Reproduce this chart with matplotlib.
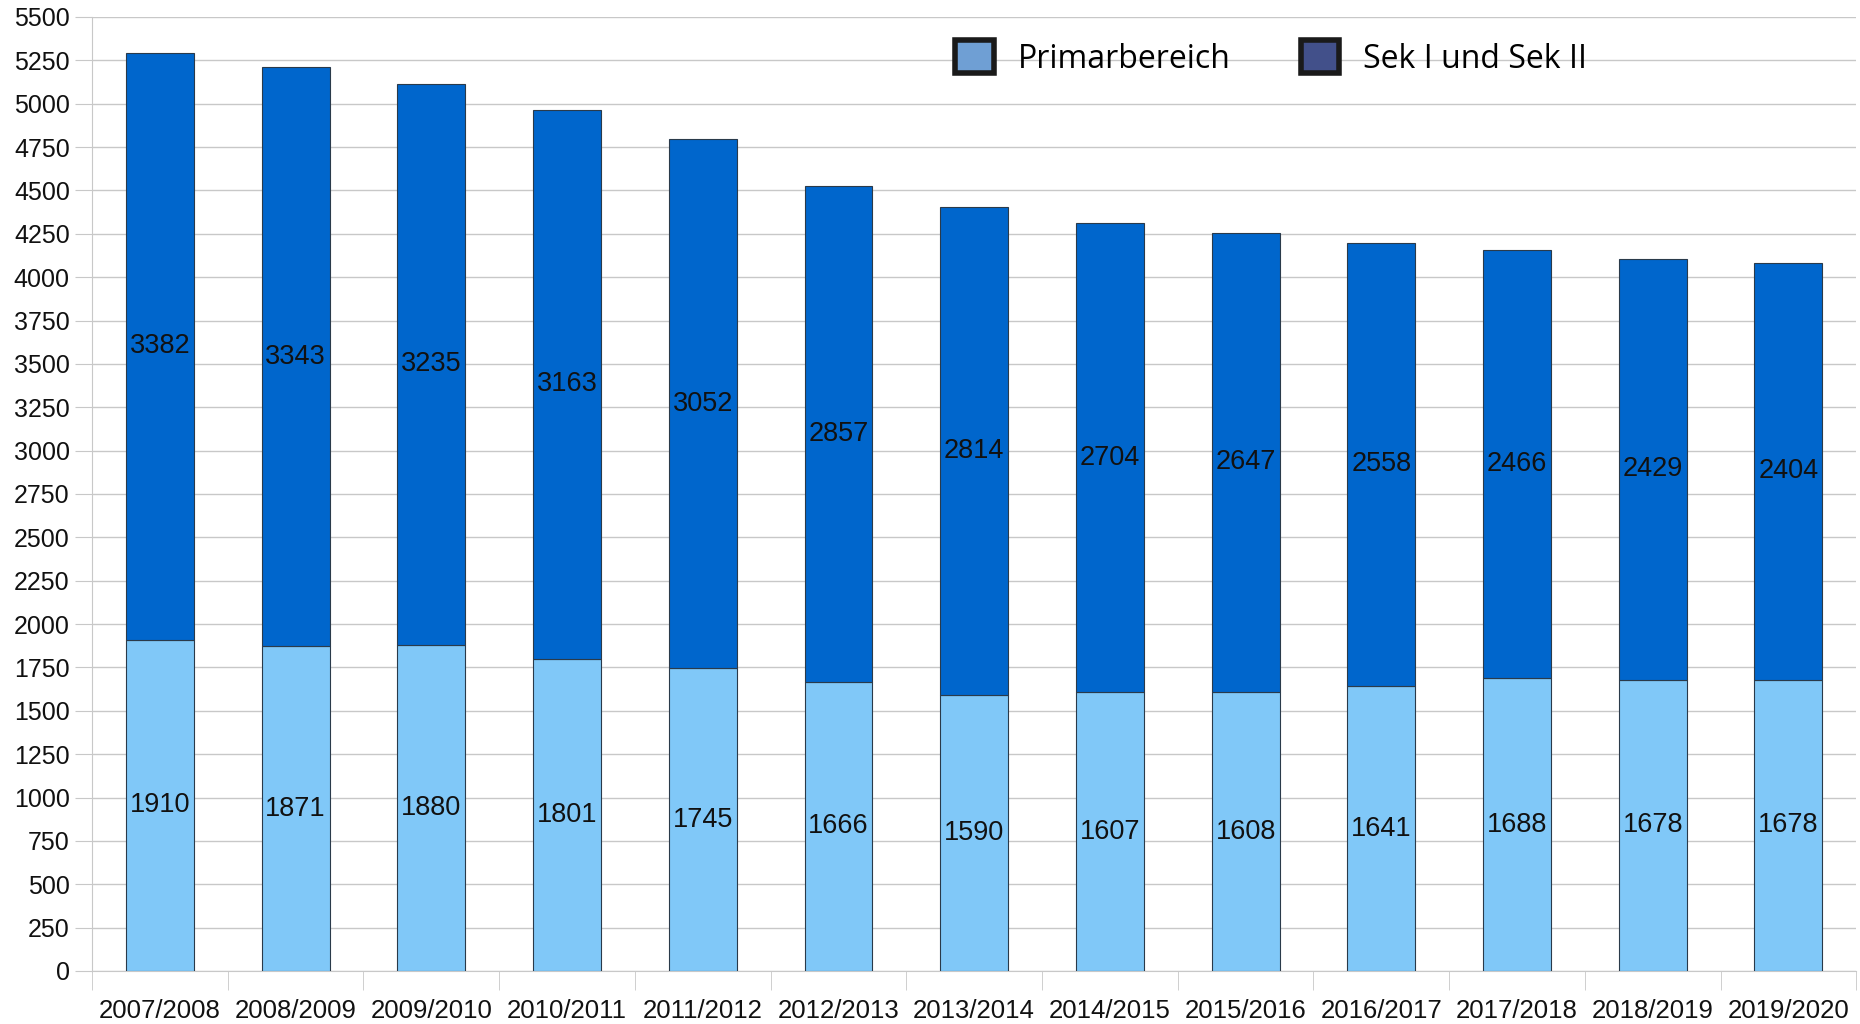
import matplotlib
matplotlib.use("Agg")
import matplotlib.pyplot as plt
from matplotlib.patches import Patch
import numpy as np

years = ["2007/2008", "2008/2009", "2009/2010", "2010/2011", "2011/2012",
         "2012/2013", "2013/2014", "2014/2015", "2015/2016", "2016/2017",
         "2017/2018", "2018/2019", "2019/2020"]
primar = [1910, 1871, 1880, 1801, 1745, 1666, 1590, 1607, 1608, 1641, 1688, 1678, 1678]
sek = [3382, 3343, 3235, 3163, 3052, 2857, 2814, 2704, 2647, 2558, 2466, 2429, 2404]

plt.rcParams["font.family"] = ["Liberation Sans", "DejaVu Sans"]

fig = plt.figure(figsize=(18.6, 10.24), dpi=100)
ax = fig.add_axes([0.0495, 0.0518, 0.9485, 0.9316])

x = np.arange(len(years))
grid_c = "#c8c8c8"
b1 = ax.bar(x, primar, width=0.5, color="#80c8f8", edgecolor="#2a3a4a", linewidth=0.8, zorder=3)
b2 = ax.bar(x, sek, width=0.5, bottom=primar, color="#0066cc", edgecolor="#2a3a4a", linewidth=0.8, zorder=3)

ax.bar_label(b1, label_type="center", fontsize=19.5, color="#111111")
ax.bar_label(b2, label_type="center", fontsize=19.5, color="#111111")

ax.set_ylim(0, 5500)
ax.set_xlim(-0.5, len(years) - 0.5)
ax.set_yticks(range(0, 5501, 250))
ax.yaxis.grid(True, color=grid_c, linewidth=1, zorder=0)
ax.set_xticks(x)
ax.set_xticklabels(years)
ax.set_xticks(np.arange(-0.5, len(years), 1), minor=True)
ax.tick_params(axis="x", which="major", length=0, pad=20, labelsize=18.5, colors="#111111")
ax.tick_params(axis="x", which="minor", length=14, color=grid_c)
ax.tick_params(axis="y", length=12, color=grid_c, labelsize=18, labelcolor="#111111", pad=4)

for s in ["top", "right"]:
    ax.spines[s].set_visible(False)
ax.spines["left"].set_color(grid_c)
ax.spines["bottom"].set_color(grid_c)

handles = [Patch(facecolor="#6f9fd4", edgecolor="#1a1a1a", linewidth=4, label="Primarbereich"),
           Patch(facecolor="#42508a", edgecolor="#1a1a1a", linewidth=4, label="Sek I und Sek II")]
ax.legend(handles=handles, loc="center left", bbox_to_anchor=(0.473, 0.957), ncol=2,
          frameon=False, prop={"family": "Open Sans", "size": 23},
          handlelength=1.2, handleheight=1.2, columnspacing=2.2, handletextpad=0.75)

fig.savefig("out.png", dpi=100)
